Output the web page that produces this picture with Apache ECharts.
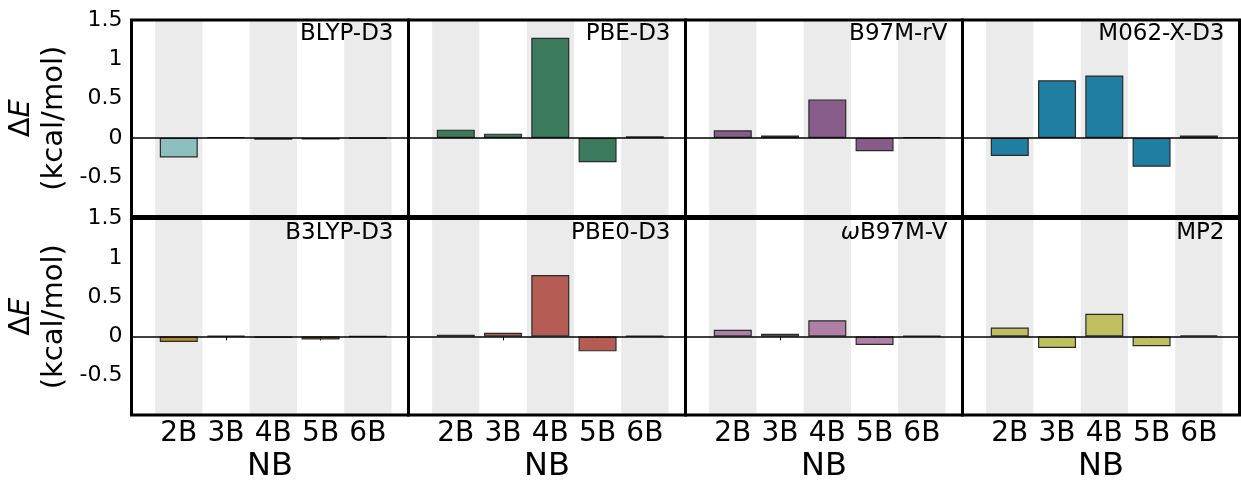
<!DOCTYPE html>
<html>
<head>
<meta charset="utf-8">
<script src="https://cdn.jsdelivr.net/npm/echarts@6/dist/echarts.min.js"></script>
<style>
  html, body { margin: 0; padding: 0; background: #fff; }
  #chart { width: 1241px; height: 484px; }
</style>
</head>
<body>
<div id="chart"></div>
<script>
// Many-body decomposition error per method, kcal/mol, for 2B..6B terms
const categories = ['2B', '3B', '4B', '5B', '6B'];

const blypD3   = [-0.25, 0.010, -0.022, -0.020, -0.004];
const pbeD3    = [0.105, 0.054, 1.275, -0.31, 0.020];
const b97mRV   = [0.096, 0.030, 0.49, -0.17, 0.010];
const m062xD3  = [-0.23, 0.734, 0.794, -0.368, 0.030];
const b3lypD3  = [-0.07, 0.008, -0.018, -0.040, 0.003];
const pbe0D3   = [0.020, 0.045, 0.78, -0.19, 0.005];
const wb97mV   = [0.085, 0.034, 0.206, -0.11, 0.005];
const mp2      = [0.114, -0.148, 0.287, -0.126, 0.012];

const panelNames = ['BLYP-D3', 'PBE-D3', 'B97M-rV', 'M062-X-D3',
                    'B3LYP-D3', 'PBE0-D3', '{i|ω}B97M-V', 'MP2'];
const panelValues = [blypD3, pbeD3, b97mRV, m062xD3, b3lypD3, pbe0D3, wb97mV, mp2];
const panelColors = ['#8dbfbf', '#3c7a5e', '#875c8a', '#1f7ea2',
                     '#b48a2c', '#b55d55', '#b07fa6', '#bfbf5f'];

// y axis: -1 .. 1.5 step 0.5 ; x axis: value axis with one unit per category
const yMin = -1, yMax = 1.5, yStep = 0.5;
const xMin = -1, xMax = 4.86;
const shadedCats = [0, 2, 4];

const FONT = 'DejaVu Sans';
const colLeft = [131.5, 408.5, 685.5, 962.5];
const colWidth = 277;
const rowTop = [20, 218.5];
const rowHeight = 196.5;

const grids = [], xAxes = [], yAxes = [], series = [], titles = [];

for (let p = 0; p < 8; p++) {
  const row = Math.floor(p / 4), col = p % 4;
  grids.push({
    left: colLeft[col], top: rowTop[row], width: colWidth, height: rowHeight,
    show: true, borderColor: '#000', borderWidth: 3, backgroundColor: 'transparent',
    z: 10, outerBoundsMode: 'none'
  });
  const bottomRow = row === 1;
  xAxes.push({
    type: 'value', gridIndex: p, min: xMin, max: xMax, interval: 1,
    splitLine: { show: false },
    axisLine: { show: false },
    axisTick: {
      show: bottomRow, inside: false, length: 4,
      lineStyle: { color: '#000', width: 1 },
      customValues: [0, 1, 2, 3, 4]
    },
    axisLabel: {
      show: bottomRow, margin: 5, color: '#000', fontFamily: FONT, fontSize: 28,
      customValues: [0, 1, 2, 3, 4],
      formatter: v => categories[Math.round(v)] || ''
    },
    name: bottomRow ? 'NB' : '',
    nameLocation: 'middle', nameGap: 36,
    nameTextStyle: { color: '#000', fontFamily: FONT, fontSize: 32 }
  });
  const firstCol = col === 0;
  yAxes.push({
    type: 'value', gridIndex: p, min: yMin, max: yMax, interval: yStep,
    splitLine: { show: false },
    axisLine: { show: false },
    axisTick: { show: true, inside: false, length: 4, lineStyle: { color: '#000', width: 1 } },
    axisLabel: {
      show: firstCol, margin: 9, color: '#000', fontFamily: FONT, fontSize: 22,
      showMinLabel: false,
      formatter: v => (v === yMin ? '' : String(v))
    },
    name: firstCol ? '{n|Δ}{e|E}\n{n|(kcal/mol)}' : '',
    nameLocation: 'middle', nameGap: 61,
    nameTextStyle: {
      color: '#000', fontFamily: FONT, fontSize: 29, lineHeight: 33,
      rich: {
        n: { fontFamily: FONT, fontSize: 29, lineHeight: 33, color: '#000' },
        e: { fontFamily: FONT, fontSize: 29, lineHeight: 33, fontStyle: 'italic', color: '#000' }
      }
    }
  });

  // alternating light bands behind the 2B, 4B and 6B columns
  series.push({
    type: 'line', xAxisIndex: p, yAxisIndex: p, data: [], silent: true, z: 1,
    markArea: {
      silent: true,
      itemStyle: { color: '#ebebeb' },
      data: shadedCats.map(c => [{ xAxis: c - 0.5 }, { xAxis: c + 0.5 }])
    }
  });

  series.push({
    type: 'bar', xAxisIndex: p, yAxisIndex: p, z: 2,
    barWidth: 38,
    itemStyle: { color: panelColors[p], borderColor: '#2b2b2b', borderWidth: 1.2 },
    data: panelValues[p].map((v, i) => [i, v]),
    markLine: {
      silent: true, symbol: 'none', animation: false,
      label: { show: false },
      lineStyle: { color: '#000', width: 1.5, type: 'solid' },
      data: [{ yAxis: 0 }]
    }
  });

  titles.push({
    text: panelNames[p],
    right: 1241 - (colLeft[col] + colWidth - 15),
    top: rowTop[row] + 3,
    padding: 0,
    textStyle: {
      color: '#000', fontFamily: FONT, fontSize: 23, fontWeight: 'normal',
      rich: { i: { fontFamily: FONT, fontSize: 23, fontStyle: 'italic', color: '#000' } }
    }
  });
}

const chart = echarts.init(document.getElementById('chart'), null, { renderer: 'canvas' });
chart.setOption({
  animation: false,
  backgroundColor: '#fff',
  title: titles,
  grid: grids,
  xAxis: xAxes,
  yAxis: yAxes,
  series: series
});
</script>
</body>
</html>
